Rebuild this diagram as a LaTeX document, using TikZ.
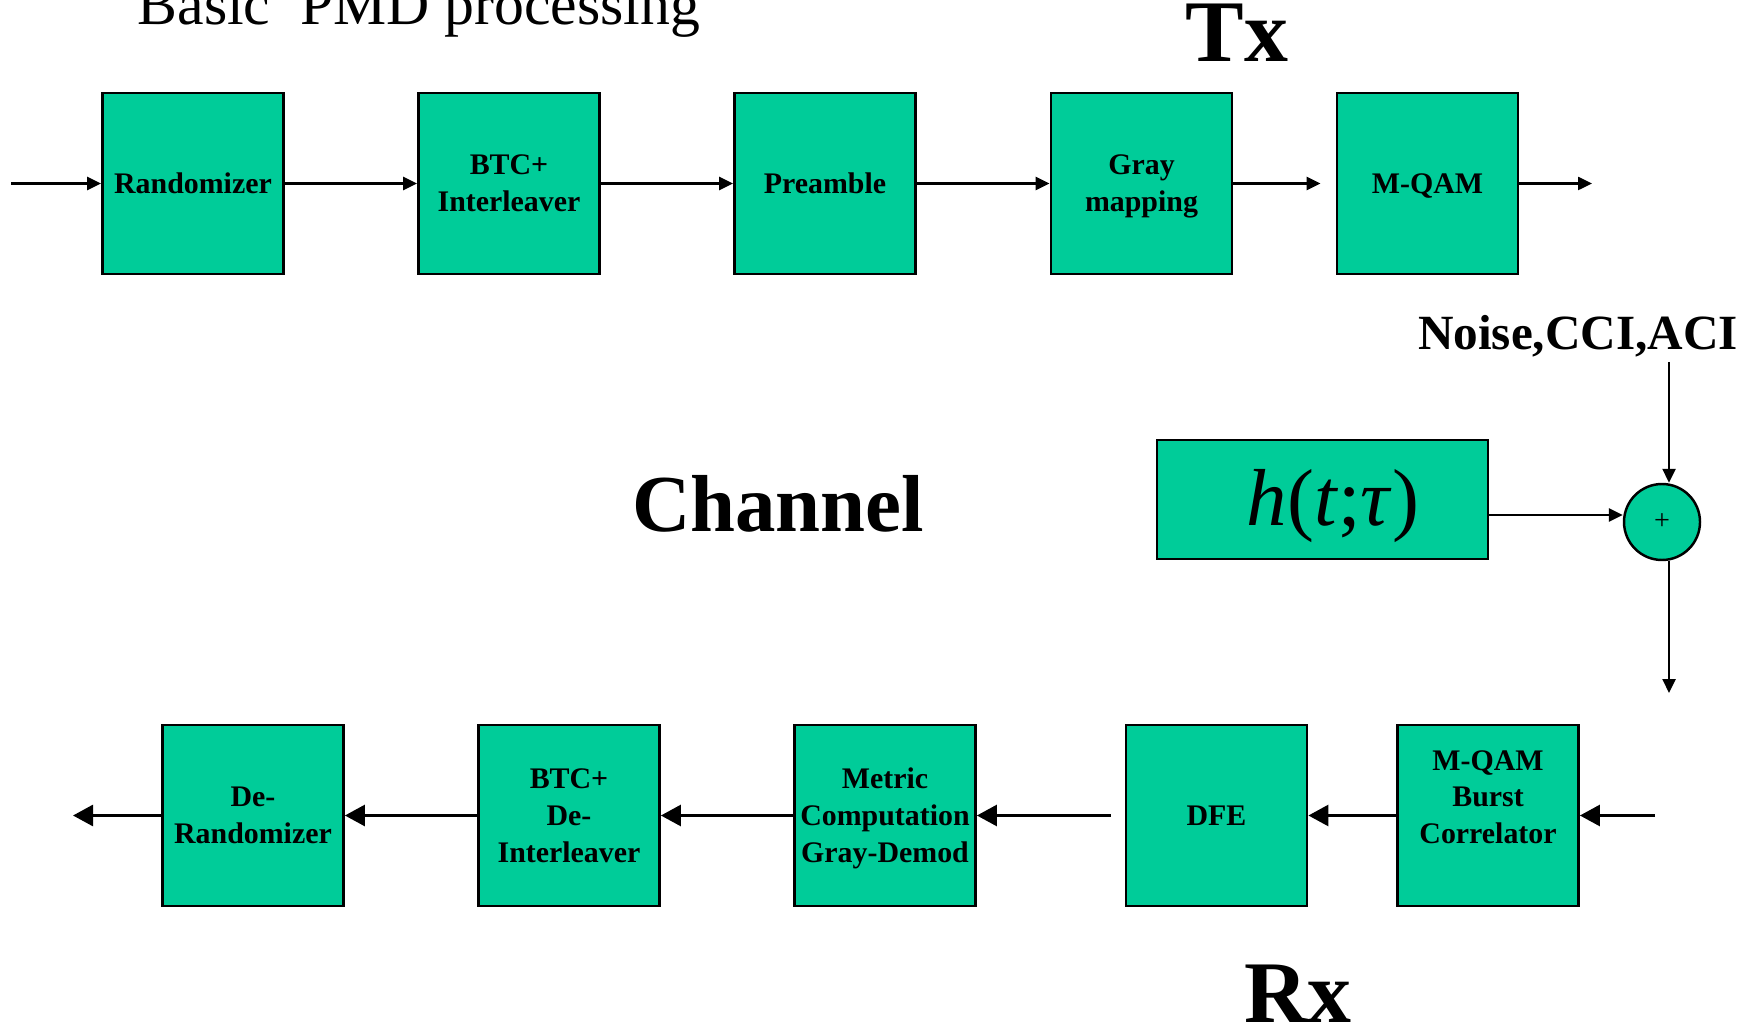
\documentclass[tikz,border=0pt]{standalone}
\usepackage{fontspec}
\setmainfont{Liberation Serif}
\usetikzlibrary{arrows.meta}
\definecolor{boxgreen}{RGB}{0,204,153}

\begin{document}
\begin{tikzpicture}[
      blk/.style={rectangle,draw,line width=0.8pt,fill=boxgreen,
        minimum width=1.81cm,minimum height=1.81cm,inner sep=0pt,
        align=center,text depth=0pt,font=\bfseries\fontsize{8.5}{10.5}\selectfont},
      txarrow/.style={line width=0.7pt,-{Triangle[length=1.4mm,width=1.3mm]}},
      rxarrow/.style={line width=0.8pt,-{Triangle[length=2mm,width=2.1mm]}}]
    \useasboundingbox (0,0) rectangle (17.58,10.27);

    \node[anchor=base west,inner sep=0pt,font=\fontsize{17}{20}\selectfont](title) at (1.37,10.02){Basic\ \ PMD processing};
    \node[anchor=base,font=\bfseries\fontsize{25}{28}\selectfont](tx) at (12.37,9.65){Tx};
    \node[anchor=base,font=\bfseries\fontsize{25}{28}\selectfont](rx) at (12.98,0.05){Rx};
    \node[anchor=base,font=\bfseries\fontsize{23}{26}\selectfont](ch) at (7.78,4.96){Channel};
    \node[anchor=base,font=\bfseries\fontsize{14}{16}\selectfont](noise) at (15.78,6.78){Noise,CCI,ACI};

    % transmitter chain
    \node[blk](t0) at (1.93,8.435){Randomizer};
    \node[blk, right of=t0, node distance=3.16cm](t1){BTC+\\Interleaver};
    \node[blk, right of=t1, node distance=3.16cm](t2){Preamble};
    \node[blk, right of=t2, node distance=3.165cm](t3){Gray\\mapping};
    \node[blk, right of=t3, node distance=2.86cm](t4){M-QAM};
    \coordinate (in) at (0.11,8.435);
    \coordinate (out) at (15.92,8.435);
    \draw[txarrow] (in) -- (t0);
    \draw[txarrow] (t0) -- (t1);
    \draw[txarrow] (t1) -- (t2);
    \draw[txarrow] (t2) -- (t3);
    \draw[txarrow] (t3.east) -- ([xshift=-0.15cm]t4.west);
    \draw[txarrow] (t4) -- (out);

    % channel
    \node[rectangle,draw,line width=0.8pt,fill=boxgreen,minimum width=3.31cm,minimum height=1.19cm](h) at (13.225,5.275){};
    \node[anchor=base,font=\fontsize{23}{26}\selectfont](hlab) at ([xshift=0.105cm,yshift=-0.255cm]h.center){\textit{h}(\textit{t};\textit{τ})};
    \node[circle,draw,line width=0.7pt,fill=boxgreen,minimum size=0.76cm,inner sep=0pt,
      font=\fontsize{8}{9}\selectfont](sum) at (16.62,5.05){+};
    \coordinate (ns) at (16.69,6.65);
    \coordinate (dn) at (16.69,3.34);
    \coordinate (hy) at (0,5.12);
    \draw[txarrow] (ns) -- (ns |- sum.north);
    \draw[txarrow] (h.east |- hy) -- (sum.west |- hy);
    \draw[txarrow] (dn |- sum.south) -- (dn);

    % receiver chain
    \node[blk](r0) at (14.88,2.115){M-QAM\\Burst\\Correlator\\\mbox{}};
    \node[blk, left of=r0, node distance=2.715cm](r1){DFE};
    \node[blk, left of=r1, node distance=3.315cm](r2){Metric\\Computation\\Gray-Demod};
    \node[blk, left of=r2, node distance=3.16cm](r3){BTC+\\De-\\Interleaver};
    \node[blk, left of=r3, node distance=3.16cm](r4){De-\\Randomizer};
    \coordinate (rin) at (16.55,2.115);
    \coordinate (rout) at (0.73,2.115);
    \draw[rxarrow] (rin) -- (r0);
    \draw[rxarrow] (r0) -- (r1);
    \draw[rxarrow] ([xshift=-0.14cm]r1.west) -- (r2);
    \draw[rxarrow] (r2) -- (r3);
    \draw[rxarrow] (r3) -- (r4);
    \draw[rxarrow] (r4) -- (rout);
\end{tikzpicture}
\end{document}
